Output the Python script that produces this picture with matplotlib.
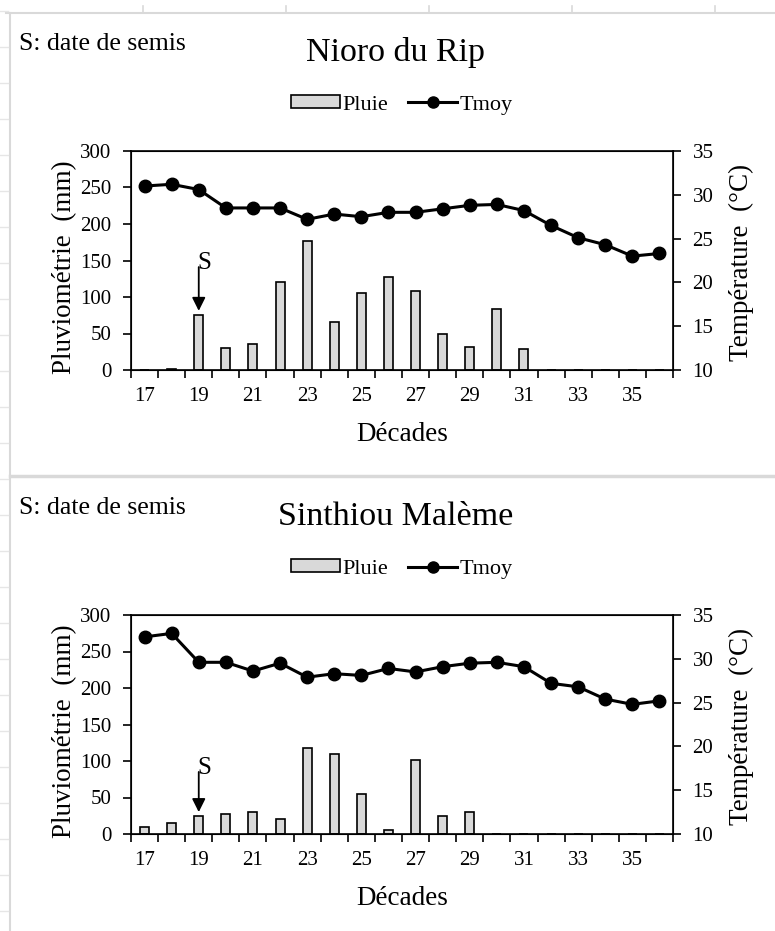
import matplotlib.pyplot as plt
from matplotlib.lines import Line2D
from matplotlib.patches import Patch
import numpy as np

plt.rcParams['font.family'] = ['Liberation Serif', 'DejaVu Serif']

# Décades (x axis)
decades = list(range(17, 37))
semis = 19

# Nioro du Rip
nioro_pluie = [0, 2, 76, 30, 35, 120, 177, 66, 106, 128, 108, 49, 32, 84, 29, 0, 0, 0, 0, 0]
nioro_tmoy = [31.0, 31.2, 30.6, 28.5, 28.5, 28.5, 27.2, 27.8, 27.5, 28.0,
              28.0, 28.4, 28.8, 28.9, 28.2, 26.5, 25.1, 24.3, 23.0, 23.3]

# Sinthiou Malème
sinthiou_pluie = [10, 15, 25, 28, 30, 20, 118, 109, 55, 5, 101, 25, 30, 0, 0, 0, 0, 0, 0, 0]
sinthiou_tmoy = [32.5, 32.9, 29.6, 29.6, 28.6, 29.5, 27.9, 28.3, 28.1, 28.9,
                 28.5, 29.1, 29.5, 29.6, 29.1, 27.2, 26.8, 25.4, 24.8, 25.2]

W, H = 775, 931


def fx(px):
    return px / W


def fy(py):
    return 1 - py / H


def drawPanel(fig, top_px, title, pluie, tmoy, arrow_gap):
    # plot area in pixels: left 131, right 673, height 219
    ax = fig.add_axes([fx(131), fy(top_px + 219), fx(673) - fx(131), 219 / H])

    ax.bar(decades, pluie, width=0.33, color='#d9d9d9', edgecolor='black',
           linewidth=1.2, zorder=2)
    ax.set_xlim(16.5, 36.5)
    ax.set_ylim(0, 300)
    ax.set_yticks(range(0, 301, 50))

    # ticks on category boundaries, labels every second decade
    ax.set_xticks(np.arange(16.5, 37, 1))
    ax.set_xticklabels([])
    ax.set_xticks(decades[::2], minor=True)
    ax.set_xticklabels([str(d) for d in decades[::2]], minor=True)
    ax.tick_params(axis='x', which='major', direction='out', length=6, width=1.2)
    ax.tick_params(axis='x', which='minor', length=0, pad=12, labelsize=15)
    ax.tick_params(axis='y', direction='out', length=6, width=1.2, pad=8, labelsize=15)

    for sp in ax.spines.values():
        sp.set_linewidth(1.2)

    ax.set_xlabel('Décades', fontsize=19.5, labelpad=12)
    ax.set_ylabel('Pluviométrie  (mm)', fontsize=19.5)
    ax.yaxis.set_label_coords(-0.10, 0.47)

    # arrow for sowing date
    i = decades.index(semis)
    ax.annotate('', xy=(semis, pluie[i] + 5), xytext=(semis, pluie[i] + arrow_gap),
                arrowprops=dict(arrowstyle='-|>', color='black', lw=1.3,
                                mutation_scale=20, shrinkA=0, shrinkB=0))
    ax.text(semis - 0.05, pluie[i] + arrow_gap + 5, 'S', fontsize=18,
            ha='left', va='center')

    ax2 = ax.twinx()
    ax2.plot(decades, tmoy, color='black', linewidth=2.2, marker='o',
             markersize=9, zorder=3)
    ax2.set_ylim(10, 35)
    ax2.set_yticks(range(10, 36, 5))
    ax2.tick_params(axis='y', direction='out', length=6, width=1.2, pad=8, labelsize=15)
    ax2.set_ylabel('Température  (°C)', fontsize=19.5)
    ax2.yaxis.set_label_coords(1.103, 0.49)

    # texts above the plot area
    fig.text(fx(19), fy(top_px - 107), 'S: date de semis', fontsize=18.5,
             ha='left', va='center')
    fig.text(fx(396), fy(top_px - 98), title, fontsize=24.5, ha='center', va='center')

    handles = [Patch(facecolor='#d9d9d9', edgecolor='black', linewidth=1.2),
               Line2D([], [], color='black', linewidth=2.2, marker='o', markersize=8)]
    fig.legend(handles, ['Pluie', 'Tmoy'], loc='center',
               bbox_to_anchor=(fx(402), fy(top_px - 46)), ncol=2, frameon=False,
               fontsize=16, handlelength=2.2, handleheight=0.5,
               handletextpad=0.1, columnspacing=0.9, borderpad=0)


fig = plt.figure(figsize=(W / 100, H / 100), dpi=100)

# spreadsheet background lines
grey = '#d9d9d9'
fig.add_artist(Line2D([fx(6), 1], [fy(13), fy(13)], color=grey, linewidth=1.5))
fig.add_artist(Line2D([fx(10), fx(10)], [fy(13), 0], color=grey, linewidth=1.5))
fig.add_artist(Line2D([fx(10), 1], [fy(476), fy(476)], color=grey, linewidth=2.5))
for xt in range(143, 775, 143):
    fig.add_artist(Line2D([fx(xt), fx(xt)], [fy(6), fy(13)], color=grey, linewidth=1.2))
for yt in range(11, H, 36):
    fig.add_artist(Line2D([0, fx(8)], [fy(yt), fy(yt)], color='#e6e6e6', linewidth=1.0))

drawPanel(fig, 151, 'Nioro du Rip', nioro_pluie, nioro_tmoy, 65)
drawPanel(fig, 615, 'Sinthiou Malème', sinthiou_pluie, sinthiou_tmoy, 60)

fig.savefig('out.png', dpi=100)
